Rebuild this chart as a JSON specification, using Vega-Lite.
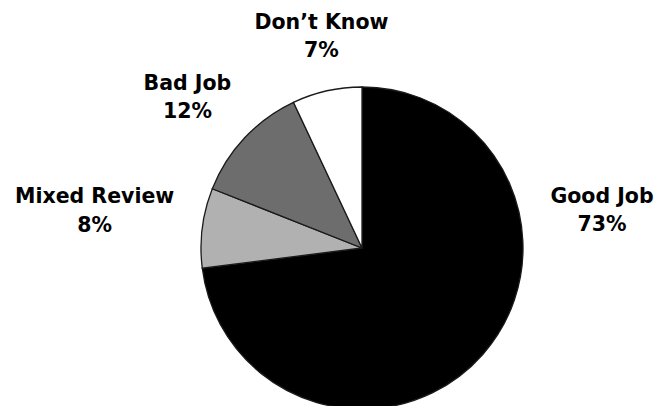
{
  "$schema": "https://vega.github.io/schema/vega-lite/v6.json",
  "width": 590,
  "height": 316,
  "autosize": {"type": "none"},
  "padding": {"left": 67, "top": 90, "right": 0, "bottom": 0},
  "background": "white",
  "view": {"stroke": null},
  "data": {
    "values": [
      {"category": "Good Job", "value": 73, "order": 1, "label": "Good Job\n73%"},
      {"category": "Mixed Review", "value": 8, "order": 2, "label": "Mixed Review\n8%"},
      {"category": "Bad Job", "value": 12, "order": 3, "label": "Bad Job\n12%"},
      {"category": "Don’t Know", "value": 7, "order": 4, "label": "Don’t Know\n7%"}
    ]
  },
  "encoding": {
    "theta": {"field": "value", "type": "quantitative", "stack": true},
    "order": {"field": "order", "type": "quantitative", "sort": "ascending"},
    "detail": {"field": "category", "type": "nominal"}
  },
  "layer": [
    {
      "mark": {"type": "arc", "outerRadius": 161, "stroke": "#1a1a1a", "strokeWidth": 1.3},
      "encoding": {
        "color": {
          "field": "category",
          "type": "nominal",
          "scale": {
            "domain": ["Good Job", "Mixed Review", "Bad Job", "Don’t Know"],
            "range": ["#000000", "#b1b1b1", "#6d6d6d", "#ffffff"]
          },
          "legend": null
        }
      }
    },
    {
      "mark": {"type": "text", "radius": 243, "thetaOffset": -0.88, "dy": -13, "lineBreak": "\n", "font": "DejaVu Sans", "fontWeight": "bold", "fontSize": 20.5, "lineHeight": 28.5, "align": "center", "baseline": "middle", "color": "#000000"},
      "encoding": {"text": {"condition": {"test": "datum.order === 1", "field": "label"}, "value": ""}}
    },
    {
      "mark": {"type": "text", "radius": 270, "thetaOffset": 0.014, "dy": -13, "lineBreak": "\n", "font": "DejaVu Sans", "fontWeight": "bold", "fontSize": 20.5, "lineHeight": 28.5, "align": "center", "baseline": "middle", "color": "#000000"},
      "encoding": {"text": {"condition": {"test": "datum.order === 2", "field": "label"}, "value": ""}}
    },
    {
      "mark": {"type": "text", "radius": 231, "thetaOffset": -0.04, "dy": -13, "lineBreak": "\n", "font": "DejaVu Sans", "fontWeight": "bold", "fontSize": 20.5, "lineHeight": 28.5, "align": "center", "baseline": "middle", "color": "#000000"},
      "encoding": {"text": {"condition": {"test": "datum.order === 3", "field": "label"}, "value": ""}}
    },
    {
      "mark": {"type": "text", "radius": 216, "thetaOffset": 0.031, "dy": -13, "lineBreak": "\n", "font": "DejaVu Sans", "fontWeight": "bold", "fontSize": 20.5, "lineHeight": 28.5, "align": "center", "baseline": "middle", "color": "#000000"},
      "encoding": {"text": {"condition": {"test": "datum.order === 4", "field": "label"}, "value": ""}}
    }
  ]
}
